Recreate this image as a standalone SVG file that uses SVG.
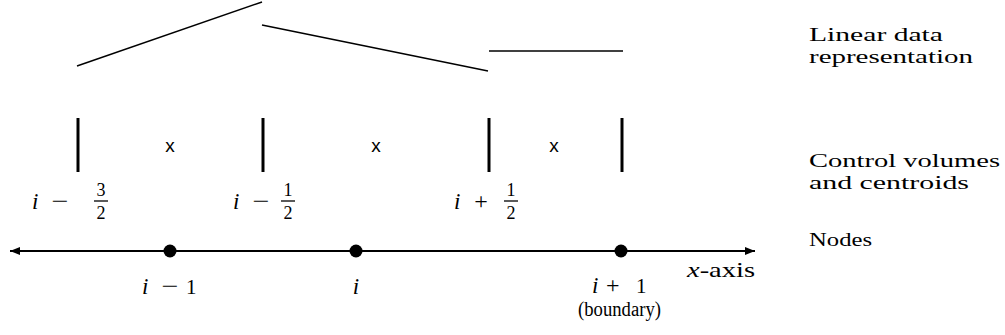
<svg xmlns="http://www.w3.org/2000/svg" width="1005" height="335" viewBox="0 0 1005 335">
<defs>
<style>
text{font-family:"Liberation Serif","DejaVu Serif",serif;fill:#000}
.rm{font-size:21px}
.lg{font-size:19.5px}
.it{font-style:italic;font-size:23px}
.op{font-size:24px;text-anchor:middle}
.fr{font-size:18px;text-anchor:middle}
.ss{font-family:"Liberation Sans","DejaVu Sans",sans-serif;font-size:19px;text-anchor:middle}
.lin{stroke:#000;stroke-width:1.5;fill:none}
.bar{stroke:#000;stroke-width:3}
.fb{stroke:#000;stroke-width:1.3}
.mid{text-anchor:middle}
</style>
<marker id="ah" viewBox="0 0 10 8" refX="10" refY="4" markerWidth="10" markerHeight="8" markerUnits="userSpaceOnUse" orient="auto-start-reverse">
<path d="M0,0 L10,4 L0,8 Z" fill="#000"/>
</marker>
</defs>
<g id="linear-data">
<line class="lin" x1="77" y1="66" x2="262" y2="2"/>
<line class="lin" x1="262" y1="25" x2="488" y2="71"/>
<line class="lin" x1="489" y1="51" x2="623" y2="51"/>
</g>
<g id="control-volumes">
<line class="bar" x1="78" y1="118" x2="78" y2="172"/>
<line class="bar" x1="263" y1="118" x2="263" y2="172"/>
<line class="bar" x1="489" y1="118" x2="489" y2="172"/>
<line class="bar" x1="622" y1="118" x2="622" y2="172"/>
<text class="ss" x="170" y="152">x</text>
<text class="ss" x="376" y="152">x</text>
<text class="ss" x="554" y="152">x</text>
</g>
<g id="face-labels">
<text class="it" x="32" y="209">i</text>
<text class="op" x="60" y="209" textLength="17" lengthAdjust="spacingAndGlyphs">−</text>
<text class="fr" x="101" y="196">3</text>
<line class="fb" x1="94" y1="201" x2="108" y2="201"/>
<text class="fr" x="101" y="219">2</text>
<text class="it" x="233" y="209">i</text>
<text class="op" x="261" y="209" textLength="17" lengthAdjust="spacingAndGlyphs">−</text>
<text class="fr" x="288" y="196">1</text>
<line class="fb" x1="281" y1="201" x2="295" y2="201"/>
<text class="fr" x="288" y="219">2</text>
<text class="it" x="454" y="209">i</text>
<text class="op" x="481" y="209">+</text>
<text class="fr" x="511" y="196">1</text>
<line class="fb" x1="504" y1="201" x2="518" y2="201"/>
<text class="fr" x="511" y="219">2</text>
</g>
<g id="connectors">
<line x1="10" y1="251" x2="755" y2="251" stroke="#000" stroke-width="2" marker-start="url(#ah)" marker-end="url(#ah)"/>
</g>
<g id="node-i-1">
<circle cx="170" cy="251" r="6.5" fill="#000"/>
<text class="it" x="142" y="294">i</text>
<text class="op" x="170" y="294" textLength="17" lengthAdjust="spacingAndGlyphs">−</text>
<text class="rm" x="186" y="294">1</text>
</g>
<g id="node-i">
<circle cx="356" cy="251" r="6.5" fill="#000"/>
<text class="it mid" x="356" y="294">i</text>
</g>
<g id="node-i+1">
<circle cx="621" cy="251" r="6.5" fill="#000"/>
<text class="rm"><tspan class="it" x="592" y="293">i</tspan><tspan font-size="24px" x="606" y="293">+</tspan><tspan x="636" y="293">1</tspan><tspan font-size="20px" x="578" y="316" textLength="83" lengthAdjust="spacingAndGlyphs">(boundary)</tspan></text>
</g>
<g id="axis-label">
<text class="rm" x="687" y="277" textLength="68" lengthAdjust="spacingAndGlyphs"><tspan font-style="italic">x</tspan>-axis</text>
</g>
<g id="legend">
<text class="lg"><tspan x="809" y="41" textLength="134" lengthAdjust="spacingAndGlyphs">Linear data</tspan><tspan x="809" y="63" textLength="164" lengthAdjust="spacingAndGlyphs">representation</tspan></text>
<text class="lg"><tspan x="809" y="167" textLength="191" lengthAdjust="spacingAndGlyphs">Control volumes</tspan><tspan x="809" y="189" textLength="160" lengthAdjust="spacingAndGlyphs">and centroids</tspan></text>
<text class="lg" x="809" y="246" textLength="63" lengthAdjust="spacingAndGlyphs">Nodes</text>
</g>
</svg>
